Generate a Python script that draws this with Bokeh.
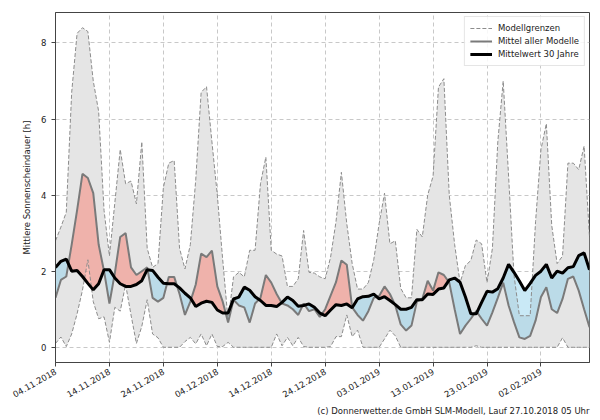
import numpy as np
import pandas as pd
from bokeh.plotting import figure
from bokeh.models import Range1d, FixedTicker, DatetimeTickFormatter, Legend, LegendItem, Title
from bokeh.embed import file_html
from bokeh.resources import INLINE

start_date = "2018-11-04"
n_days = 100

upper = [2.8, 3.16, 3.55, 6.7, 8.25, 8.4, 8.3, 7.0, 6.2, 3.6,
         2.4, 3.8, 5.2, 4.3, 4.37, 3.77, 5.4, 2.6, 2.1, 2.2,
         4.2, 4.84, 4.91, 2.6, 2.06, 2.7, 4.4, 6.7, 6.85, 5.4,
         4.0, 2.3, 0.7, 1.85, 1.97, 1.85, 2.55, 2.55, 4.3, 5.0,
         2.55, 2.45, 2.4, 1.6, 1.6, 1.8, 3.07, 1.97, 1.95, 1.85,
         1.8, 2.37, 3.3, 4.6, 3.25, 2.2, 1.53, 1.53, 1.7, 2.3,
         3.25, 4.05, 2.72, 2.8, 1.55, 1.3, 1.3, 3.1, 2.9, 4.0,
         4.5, 6.84, 7.06, 4.0, 2.7, 1.7, 2.15, 2.28, 2.82, 2.72,
         1.7, 2.6, 5.4, 7.0, 4.5, 1.9, 0.83, 0.83, 0.83, 3.3,
         5.2, 5.88, 3.2, 2.2, 2.4, 4.84, 4.84, 4.67, 5.29, 2.9]

lower = [0.1, 0.27, 0.02, 0.35, 0.88, 1.5, 2.3, 1.2, 0.75, 0.8,
         0.13, 1.05, 0.95, 1.65, 0.85, 0.1, 0.55, 1.25, 0.35, 0.25,
         0.0, 0.0, 0.0, 0.0, 0.15, 0.26, 0.09, 0.35, 0.04, 0.35,
         0.02, 0.02, 0.13, 0.0, 0.0, 0.0, 0.0, 0.0, 0.0, 0.0,
         0.0, 0.35, 0.04, 0.26, 0.04, 0.26, 0.02, 0.0, 0.0, 0.0,
         0.0, 0.02, 0.28, 0.28, 0.85, 0.28, 0.45, 0.0, 0.0, 0.0,
         0.0, 0.22, 0.45, 0.3, 0.0, 0.0, 0.0, 0.0, 0.0, 0.0,
         0.0, 0.0, 0.0, 0.0, 0.0, 0.0, 0.0, 0.0, 0.04, 0.0,
         0.0, 0.0, 0.0, 0.0, 0.0, 0.0, 0.0, 0.0, 0.0, 0.0,
         0.0, 0.0, 0.0, 0.0, 0.25, 0.0, 0.0, 0.0, 0.0, 0.0]

model_mean = [1.3, 1.77, 1.86, 2.7, 3.6, 4.56, 4.45, 4.05, 2.7, 2.0,
              1.15, 1.95, 2.9, 3.0, 2.1, 1.9, 2.0, 2.1, 1.3, 1.2,
              1.3, 1.85, 1.85, 1.4, 0.85, 1.2, 1.65, 2.46, 2.37, 2.54,
              1.6, 1.2, 0.65, 1.25, 1.1, 1.05, 0.65, 1.15, 1.3, 1.9,
              1.7, 1.4, 1.15, 1.1, 1.0, 0.85, 1.15, 0.95, 1.0, 0.8,
              1.0, 1.36, 1.71, 2.28, 2.17, 1.05, 0.85, 0.7, 0.95, 1.3,
              1.35, 1.6, 1.4, 1.1, 0.6, 0.44, 0.57, 1.2, 1.27, 1.75,
              1.49, 1.97, 1.9, 1.7, 1.0, 0.35, 0.57, 0.75, 0.95, 0.75,
              0.57, 0.92, 1.3, 1.7, 1.1, 0.66, 0.26, 0.22, 0.3, 0.7,
              1.32, 1.58, 1.0, 0.9, 1.27, 1.8, 1.86, 1.49, 1.0, 0.53]

climate_30y = [2.1, 2.26, 2.32, 2.0, 2.02, 1.86, 1.68, 1.51, 1.67, 2.04,
               2.04, 1.82, 1.67, 1.6, 1.6, 1.65, 1.75, 2.04, 2.02, 1.84,
               1.68, 1.67, 1.67, 1.56, 1.42, 1.3, 1.07, 1.16, 1.21, 1.18,
               0.98, 0.9, 0.9, 1.27, 1.32, 1.58, 1.5, 1.33, 1.23, 1.1,
               1.1, 1.07, 1.18, 1.32, 1.23, 1.08, 1.1, 1.14, 1.05, 0.9,
               0.83, 0.98, 1.12, 1.1, 1.14, 1.04, 1.27, 1.33, 1.34, 1.4,
               1.27, 1.33, 1.23, 1.12, 1.0, 1.0, 1.05, 1.25, 1.25, 1.4,
               1.39, 1.53, 1.56, 1.77, 1.82, 1.71, 1.32, 0.88, 0.88, 1.18,
               1.47, 1.45, 1.54, 1.82, 2.18, 1.97, 1.74, 1.49, 1.68, 1.89,
               2.0, 2.18, 1.82, 2.0, 1.95, 2.09, 2.12, 2.41, 2.48, 2.04]

tick_labels = ["04.11.2018", "14.11.2018", "24.11.2018", "04.12.2018", "14.12.2018",
               "24.12.2018", "03.01.2019", "13.01.2019", "23.01.2019", "02.02.2019"]
y_ticks = [0, 2, 4, 6, 8]
footer = "(c) Donnerwetter.de GmbH SLM-Modell, Lauf 27.10.2018 05 Uhr"

dates = pd.date_range(start_date, periods=n_days, freq="D")
xms = (dates.values.astype("datetime64[ms]").astype(np.int64)).astype(float)

# insert crossing points between model mean and climate line
m = np.array(model_mean); c = np.array(climate_30y)
xs, ms_, cs = [], [], []
for i in range(n_days - 1):
    xs.append(xms[i]); ms_.append(m[i]); cs.append(c[i])
    d0 = m[i] - c[i]; d1 = m[i + 1] - c[i + 1]
    if d0 * d1 < 0:
        t = d0 / (d0 - d1)
        xc = xms[i] + t * (xms[i + 1] - xms[i])
        yc = m[i] + t * (m[i + 1] - m[i])
        xs.append(xc); ms_.append(yc); cs.append(yc)
xs.append(xms[-1]); ms_.append(m[-1]); cs.append(c[-1])
xs = np.array(xs); ms_ = np.array(ms_); cs = np.array(cs)

FONT = "DejaVu Sans"
p = figure(width=600, height=420, x_axis_type="datetime", output_backend="svg",
           toolbar_location=None,
           x_range=Range1d(xms[0], xms[-1]), y_range=Range1d(-0.4, 8.8),
           min_border_left=55, min_border_right=11, min_border_top=12, min_border_bottom=58)
p.background_fill_color = "white"
p.border_fill_color = "white"
p.outline_line_color = "#444444"
p.outline_line_width = 1

p.varea(x=xms, y1=lower, y2=upper, fill_color="#e5e5e5")
p.varea(x=xs, y1=cs, y2=np.maximum(ms_, cs), fill_color="salmon", fill_alpha=0.5)
p.varea(x=xs, y1=np.minimum(ms_, cs), y2=cs, fill_color="skyblue", fill_alpha=0.45)

r_up = p.line(xms, upper, line_color="#8c8c8c", line_width=1, line_dash="4 2")
r_lo = p.line(xms, lower, line_color="#8c8c8c", line_width=1, line_dash="4 2")
r_mean = p.line(xms, model_mean, line_color="#7a7a7a", line_width=2)
r_clim = p.line(xms, climate_30y, line_color="black", line_width=3)

tick_dates = pd.to_datetime(tick_labels, format="%d.%m.%Y")
tick_ms = list((tick_dates.values.astype("datetime64[ms]").astype(np.int64)).astype(float))
p.xaxis.ticker = FixedTicker(ticks=tick_ms)
p.xaxis.formatter = DatetimeTickFormatter(days="%d.%m.%Y", months="%d.%m.%Y", years="%d.%m.%Y",
                                          hours="%d.%m.%Y")
p.xaxis.major_label_orientation = np.pi / 6
p.yaxis.ticker = FixedTicker(ticks=y_ticks)
p.yaxis.axis_label = "Mittlere Sonnenscheindauer [h]"

for ax in (p.xaxis, p.yaxis):
    ax.major_label_text_font = FONT
    ax.major_label_text_font_size = "8.5px"
    ax.major_label_text_color = "#222222"
    ax.axis_label_text_font = FONT
    ax.axis_label_text_font_size = "8.5px"
    ax.axis_label_text_font_style = "normal"
    ax.axis_label_text_color = "#222222"
    ax.axis_line_color = "#444444"
    ax.major_tick_line_color = "#444444"
    ax.major_tick_out = 4
    ax.major_tick_in = 0
    ax.minor_tick_line_color = None
p.yaxis.axis_label_standoff = 6
p.xaxis.major_label_standoff = 4

for g in (p.xgrid, p.ygrid):
    g.grid_line_color = "#c8c8c8"
    g.grid_line_dash = "4 3"
    g.grid_line_width = 1
p.xgrid.ticker = p.xaxis.ticker
p.ygrid.ticker = p.yaxis.ticker

legend = Legend(items=[
    LegendItem(label="Modellgrenzen", renderers=[r_up]),
    LegendItem(label="Mittel aller Modelle", renderers=[r_mean]),
    LegendItem(label="Mittelwert 30 Jahre", renderers=[r_clim]),
], location="top_right")
legend.label_text_font = FONT
legend.label_text_font_size = "8.5px"
legend.label_text_color = "#222222"
legend.glyph_width = 22
legend.glyph_height = 12
legend.label_height = 12
legend.spacing = 1
legend.padding = 5
legend.margin = 4
legend.label_standoff = 6
legend.border_line_color = "#cccccc"
legend.background_fill_alpha = 0.85
p.add_layout(legend)

p.add_layout(Title(text=footer, align="right", text_font=FONT, text_font_size="8.5px",
                   text_font_style="normal", text_color="#222222", standoff=0), "below")

open("out.html", "w").write(file_html(p, INLINE))
